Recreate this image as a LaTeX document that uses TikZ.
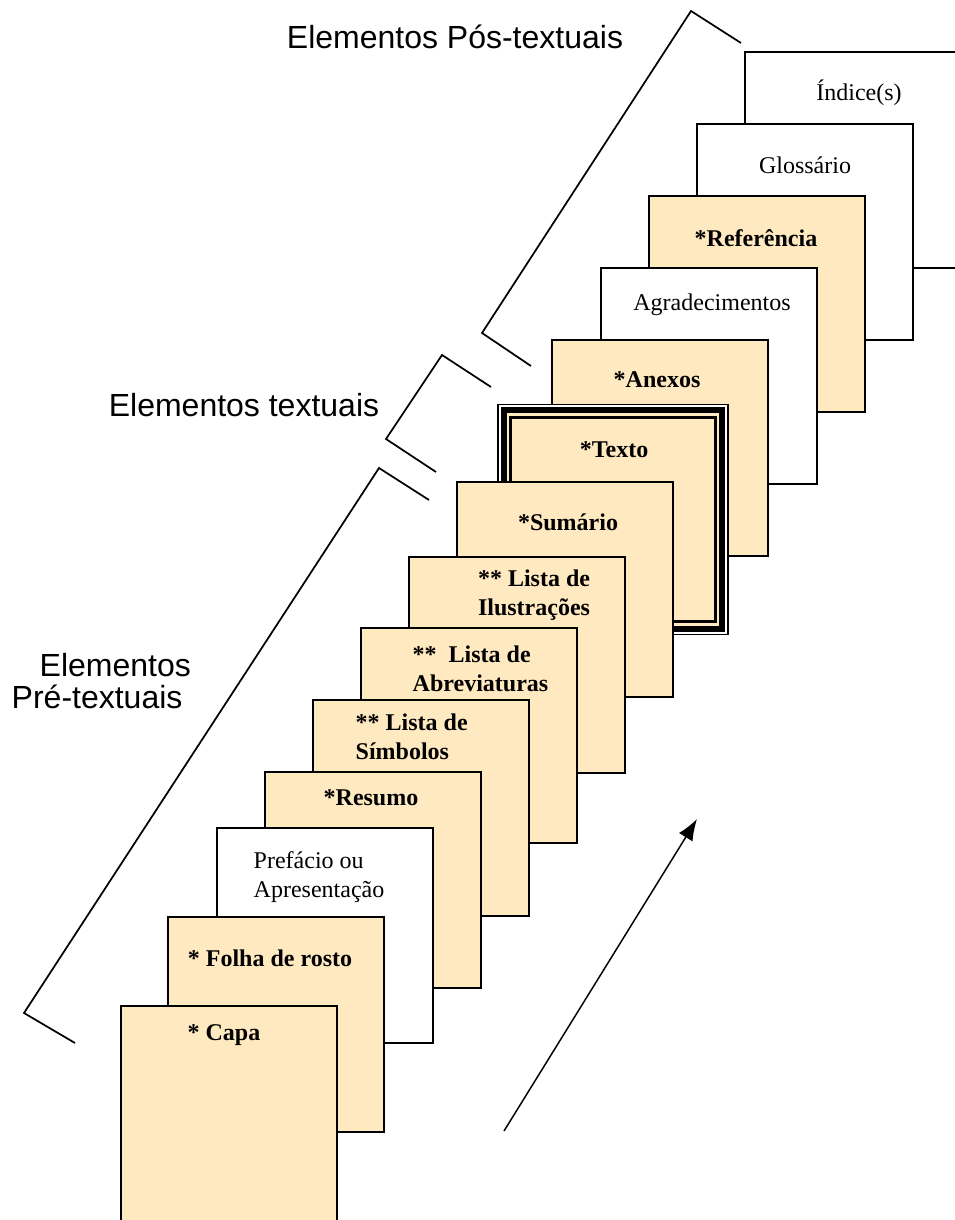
\documentclass[tikz,border=0pt]{standalone}
\usepackage{fontspec}
\setmainfont{Liberation Serif}
\setsansfont{Liberation Sans}
\usetikzlibrary{arrows.meta}
\definecolor{bege}{RGB}{255,233,192}

\begin{document}
\begin{tikzpicture}[x=0.75pt, y=-0.75pt,
    folha/.style={draw, line width=1.5pt},
    titulo/.style={font=\fontsize{18}{22}\selectfont\bfseries, align=center},
    simples/.style={font=\fontsize{18}{22}\selectfont, align=left},
    grupo/.style={font=\sffamily\fontsize{24}{24}\selectfont, align=left},
    chave/.style={line width=1.3pt}]
    \useasboundingbox (0,0) rectangle (954,1220);

    % Elementos pos-textuais (from back to front)
    \filldraw[folha, fill=white] (745,52) rectangle (961,268);
    \node[simples] (indice) at (859,93) {Índice(s)};
    \filldraw[folha, fill=white] (697,124) rectangle (913,340);
    \node[simples] (glossario) at (805,165) {Glossário};
    \filldraw[folha, fill=bege] (649,196) rectangle (865,412);
    \node[titulo] (referencia) at (756,238) {*Referência};
    \filldraw[folha, fill=white] (601,268) rectangle (817,484);
    \node[simples] (agradecimentos) at (712,305) {Agradecimentos};
    \filldraw[folha, fill=bege] (552,340) rectangle (768,556);
    \node[titulo] (anexos) at (657,380) {*Anexos};

    % Texto, with triple border
    \filldraw[fill=white, line width=1pt] (498,404.5) rectangle (728,634.5);
    \filldraw[fill=bege, line width=4.5pt] (503.7,410.2) rectangle (722.3,628.8);
    \draw[line width=2pt] (510.7,417.2) rectangle (715.3,621.8);
    \node[titulo] (texto) at (614,450) {*Texto};

    % Elementos pre-textuais
    \filldraw[folha, fill=bege] (457,482) rectangle (673,697);
    \node[titulo] (sumario) at (568,522) {*Sumário};
    \filldraw[folha, fill=bege] (409,557) rectangle (625,773);
    \node[titulo] (ilustracoes) at (534,595) {** Lista de\\Ilustrações};
    \filldraw[folha, fill=bege] (361,628) rectangle (577,843);
    \node[titulo, align=left, anchor=west] (abreviaturas) at (408,669) {**~ Lista de\\Abreviaturas};
    \filldraw[folha, fill=bege] (313,700) rectangle (529,916);
    \node[titulo, align=left, anchor=west] (simbolos) at (351,737) {** Lista de\\Símbolos};
    \filldraw[folha, fill=bege] (265,772) rectangle (481,988);
    \node[titulo] (resumo) at (371,798) {*Resumo};
    \filldraw[folha, fill=white] (217,828) rectangle (433,1043);
    \node[simples, anchor=west] (prefacio) at (249,877) {Prefácio ou\\Apresentação};
    \filldraw[folha, fill=bege] (168,917) rectangle (384,1132);
    \node[titulo] (rosto) at (270,958) {* Folha de rosto};
    \filldraw[folha, fill=bege] (121,1006) rectangle (337,1222);
    \node[titulo] (capa) at (224,1035) {* Capa};

    % Brackets
    \draw[chave] (741,43) -- (691,11) -- (482,333) -- (531,366);
    \draw[chave] (491,387) -- (442,355) -- (386,439) -- (436,472);
    \draw[chave] (429,500) -- (379,468) -- (24,1013) -- (75,1043);

    % Group labels
    \node[grupo] (pos) at (455,37) {Elementos Pós-textuais};
    \node[grupo] (textuais) at (244,405) {Elementos textuais};
    \node[grupo, anchor=west] (pre) at (7,681) {\hspace*{21pt}Elementos\\Pré-textuais};

    % Reading direction
    \coordinate (setaIni) at (504,1131);
    \coordinate (setaFim) at (697,819);
    \draw[line width=1.1pt, -{Latex[length=16pt, width=12pt]}] (setaIni) -- (setaFim);
\end{tikzpicture}
\end{document}
